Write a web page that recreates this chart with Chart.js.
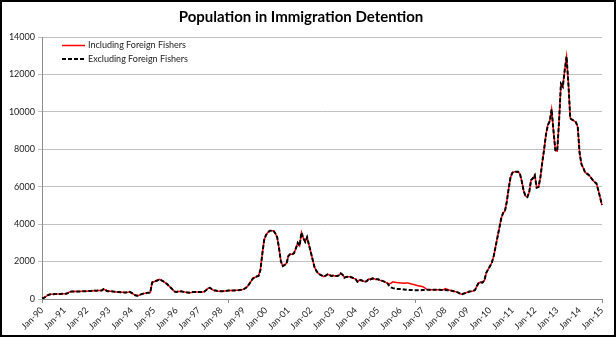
<!DOCTYPE html>
<html>
<head>
<meta charset="utf-8">
<script src="https://cdn.jsdelivr.net/npm/chart.js@4.4.1/dist/chart.umd.min.js"></script>
<style>
  html, body { margin: 0; padding: 0; background: #fff; }
  #wrap { position: relative; width: 616px; height: 337px; }
  canvas { display: block; }
</style>
</head>
<body>
<div id="wrap"><canvas id="c" width="616" height="337"></canvas></div>
<script>
// ---- Data (monthly, Jan-90 .. Jan-15) ----
const monthNames = ['Jan','Feb','Mar','Apr','May','Jun','Jul','Aug','Sep','Oct','Nov','Dec'];
const yearLabels = ['90','91','92','93','94','95','96','97','98','99','00','01','02','03','04','05','06','07','08','09','10','11','12','13','14','15'];

const excludingFishers = [
  30, 60, 120, 200, 240, 250, 260, 270, 270, 270, 270, 275,            // 1990
  280, 280, 330, 390, 400, 400, 410, 400, 400, 410, 420, 420,          // 1991
  420, 430, 430, 440, 450, 440, 450, 460, 460, 530, 480, 420,          // 1992
  420, 410, 400, 390, 380, 370, 360, 360, 350, 350, 360, 380,          // 1993
  330, 260, 200, 170, 200, 250, 280, 300, 320, 340, 350, 880,          // 1994
  920, 960, 1000, 1050, 1000, 940, 870, 800, 700, 600, 500, 400,       // 1995
  380, 400, 420, 400, 380, 360, 350, 340, 350, 370, 380, 380,          // 1996
  380, 380, 380, 400, 480, 580, 600, 520, 460, 450, 430, 420,          // 1997
  420, 420, 430, 440, 450, 450, 460, 460, 470, 470, 480, 490,          // 1998
  530, 580, 660, 800, 950, 1100, 1150, 1200, 1230, 1550, 2400, 3150,   // 1999
  3420, 3550, 3650, 3650, 3650, 3500, 3300, 2700, 2000, 1760, 1820, 1900, // 2000
  2300, 2400, 2380, 2450, 2700, 3000, 2850, 3550, 3250, 3050, 3300, 2900, // 2001
  2500, 2100, 1700, 1500, 1370, 1300, 1250, 1190, 1250, 1320, 1280, 1230, // 2002
  1250, 1230, 1230, 1260, 1370, 1300, 1140, 1180, 1190, 1190, 1150, 1100, // 2003
  1070, 920, 1010, 1000, 960, 920, 950, 1070, 1050, 1100, 1080, 1050,  // 2004
  1050, 1010, 980, 940, 900, 840, 700, 620, 580, 560, 540, 530,        // 2005
  530, 520, 510, 500, 490, 480, 480, 470, 470, 470, 470, 470,          // 2006
  480, 480, 490, 490, 500, 500, 500, 500, 490, 490, 480, 490,          // 2007
  480, 470, 470, 450, 430, 400, 380, 340, 280, 260, 290, 330,          // 2008
  360, 400, 410, 430, 480, 700, 870, 900, 880, 1000, 1400, 1580,       // 2009
  1750, 1950, 2300, 2800, 3300, 3800, 4300, 4600, 4700, 5200, 5900, 6500, // 2010
  6750, 6800, 6800, 6800, 6700, 6300, 5800, 5500, 5450, 5700, 6350, 6450, // 2011
  6620, 5950, 5980, 6500, 7300, 8000, 8800, 9300, 9500, 10130, 9000, 7950, // 2012
  7900, 9500, 11500, 11350, 12200, 12950, 11500, 9650, 9580, 9520, 9450, 9200, // 2013
  7800, 7200, 7000, 6750, 6700, 6620, 6500, 6360, 6250, 6180, 5820, 5420, // 2014
  5020                                                                    // Jan 2015
];

const includingFishers = [
  30, 60, 120, 200, 240, 250, 260, 270, 270, 270, 270, 275,            // 1990
  280, 280, 330, 390, 400, 400, 410, 400, 400, 410, 420, 420,          // 1991
  420, 430, 430, 440, 450, 440, 450, 460, 460, 530, 480, 420,          // 1992
  420, 410, 400, 390, 380, 370, 360, 360, 350, 350, 360, 380,          // 1993
  330, 260, 200, 170, 200, 250, 280, 300, 320, 340, 350, 880,          // 1994
  920, 960, 1000, 1050, 1000, 940, 870, 800, 700, 600, 500, 400,       // 1995
  380, 400, 420, 400, 380, 360, 350, 340, 350, 370, 380, 380,          // 1996
  380, 380, 380, 400, 480, 580, 600, 520, 460, 450, 430, 420,          // 1997
  420, 420, 430, 440, 450, 450, 460, 460, 470, 470, 480, 490,          // 1998
  530, 580, 660, 800, 950, 1100, 1150, 1200, 1230, 1550, 2400, 3150,   // 1999
  3420, 3550, 3650, 3650, 3650, 3500, 3300, 2700, 2000, 1760, 1820, 1900, // 2000
  2300, 2400, 2380, 2450, 2700, 3000, 2850, 3550, 3250, 3050, 3300, 2900, // 2001
  2500, 2100, 1700, 1500, 1370, 1300, 1250, 1190, 1250, 1320, 1280, 1230, // 2002
  1250, 1230, 1230, 1260, 1370, 1300, 1140, 1180, 1190, 1190, 1150, 1100, // 2003
  1070, 920, 1010, 1000, 960, 920, 950, 1070, 1050, 1100, 1080, 1050,  // 2004
  1050, 1010, 980, 940, 900, 840, 800, 850, 920, 900, 880, 870,        // 2005
  860, 850, 840, 860, 850, 830, 800, 780, 750, 720, 700, 680,          // 2006
  660, 600, 520, 500, 500, 500, 500, 500, 490, 490, 480, 490,          // 2007
  560, 520, 480, 450, 430, 400, 380, 340, 280, 260, 290, 330,          // 2008
  360, 400, 410, 430, 480, 700, 870, 900, 880, 1000, 1400, 1580,       // 2009
  1750, 1950, 2300, 2800, 3300, 3800, 4300, 4600, 4700, 5200, 5900, 6500, // 2010
  6750, 6800, 6800, 6800, 6700, 6300, 5800, 5500, 5450, 5700, 6350, 6450, // 2011
  6620, 5950, 5980, 6500, 7300, 8000, 8800, 9300, 9500, 10130, 9000, 7950, // 2012
  7900, 9500, 11500, 11350, 12200, 12950, 11500, 9650, 9580, 9520, 9450, 9200, // 2013
  7800, 7200, 7000, 6750, 6700, 6620, 6500, 6360, 6250, 6180, 5820, 5420, // 2014
  5020                                                                    // Jan 2015
];

// category labels: one per month
const categories = [];
yearLabels.forEach((y, i) => {
  monthNames.forEach((m, j) => {
    if (i < yearLabels.length - 1 || j === 0) categories.push(m + '-' + y);
  });
});

const FONT = 'Lato, "Open Sans", sans-serif';

const frameAndLegend = {
  id: 'frameAndLegend',
  afterDraw(chart) {
    const ctx = chart.ctx;
    const a = chart.chartArea;
    ctx.save();
    // legend
    const items = [
      { text: 'Including Foreign Fishers', color: '#ff0000', dash: [], w: 1.5 },
      { text: 'Excluding Foreign Fishers', color: '#000000', dash: [4, 2], w: 2 }
    ];
    items.forEach((it, i) => {
      const y = a.top + 8.5 + i * 13.6;
      ctx.beginPath();
      ctx.setLineDash(it.dash);
      ctx.lineWidth = it.w;
      ctx.strokeStyle = it.color;
      ctx.moveTo(a.left + 20, y);
      ctx.lineTo(a.left + 43, y);
      ctx.stroke();
      ctx.setLineDash([]);
      ctx.fillStyle = '#222';
      ctx.font = '9px ' + FONT;
      ctx.textBaseline = 'middle';
      ctx.textAlign = 'left';
      ctx.fillText(it.text, a.left + 46, y);
    });
    // outer frame
    ctx.lineWidth = 2;
    ctx.strokeStyle = '#000';
    ctx.strokeRect(1, 1, chart.width - 2, chart.height - 2);
    ctx.restore();
  }
};

new Chart(document.getElementById('c'), {
  type: 'line',
  data: {
    labels: categories,
    datasets: [
      {
        label: 'Including Foreign Fishers',
        data: includingFishers,
        borderColor: '#ff0000',
        borderWidth: 1.5,
        pointRadius: 0,
        tension: 0,
        order: 2
      },
      {
        label: 'Excluding Foreign Fishers',
        data: excludingFishers,
        borderColor: '#000000',
        borderWidth: 2,
        borderDash: [4, 2],
        pointRadius: 0,
        tension: 0,
        order: 1
      }
    ]
  },
  options: {
    responsive: false,
    animation: false,
    layout: { padding: { left: 0, right: 14, top: 2, bottom: 2 } },
    plugins: {
      legend: { display: false },
      tooltip: { enabled: false },
      title: {
        display: true,
        text: 'Population in Immigration Detention',
        color: '#000',
        font: { family: FONT, size: 15, weight: 'bold' },
        padding: { top: 6, bottom: 11 }
      }
    },
    scales: {
      x: {
        type: 'category',
        offset: false,
        grid: {
          display: true,
          drawOnChartArea: false,
          drawTicks: true,
          tickLength: 4,
          color: (c) => (c.index % 100 === 0 ? '#8c8c8c' : 'rgba(0,0,0,0)')
        },
        border: { display: true, color: '#8c8c8c', width: 1 },
        ticks: {
          autoSkip: false,
          minRotation: 45,
          maxRotation: 45,
          padding: 2,
          color: '#222',
          font: { family: FONT, size: 9 },
          callback: function (v, i) { return i % 12 === 0 ? this.getLabelForValue(v) : ''; }
        },
        afterFit: (s) => { s.height = 36; }
      },
      y: {
        min: 0,
        max: 14000,
        grid: { color: '#c0c0c0', tickLength: 4, lineWidth: 1 },
        border: { display: true, color: '#8c8c8c', width: 1 },
        ticks: {
          stepSize: 2000,
          padding: 3,
          color: '#222',
          font: { family: FONT, size: 9 },
          callback: (v) => String(v)
        },
        afterFit: (s) => { s.width = 42; }
      }
    }
  },
  plugins: [frameAndLegend]
});
</script>
</body>
</html>
